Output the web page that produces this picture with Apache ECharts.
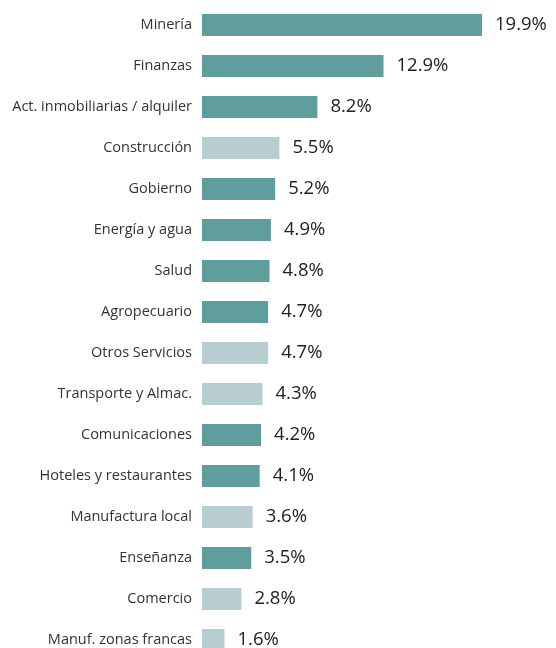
<!DOCTYPE html>
<html>
<head>
<meta charset="utf-8">
<script src="https://cdn.jsdelivr.net/npm/echarts@6/dist/echarts.min.js"></script>
<style>
  html, body { margin: 0; padding: 0; background: #fff; }
  #chart { width: 556px; height: 648px; }
</style>
</head>
<body>
<div id="chart"></div>
<script>
// Sectors, top to bottom
const categories = [
  'Minería', 'Finanzas', 'Act. inmobiliarias / alquiler', 'Construcción',
  'Gobierno', 'Energía y agua', 'Salud', 'Agropecuario', 'Otros Servicios',
  'Transporte y Almac.', 'Comunicaciones', 'Hoteles y restaurantes',
  'Manufactura local', 'Enseñanza', 'Comercio', 'Manuf. zonas francas'
];
// Share, percent
const values = [19.9, 12.9, 8.2, 5.5, 5.2, 4.9, 4.8, 4.7, 4.7, 4.3, 4.2, 4.1, 3.6, 3.5, 2.8, 1.6];
// Sectors drawn in the lighter shade
const lightSectors = [
  'Construcción', 'Otros Servicios', 'Transporte y Almac.',
  'Manufactura local', 'Comercio', 'Manuf. zonas francas'
];

const DARK = '#609e9e';
const LIGHT = '#b7cdcf';
const FONT = '"Open Sans", "Noto Sans", sans-serif';

const chart = echarts.init(document.getElementById('chart'), null, { renderer: 'canvas' });

chart.setOption({
  animation: false,
  grid: {
    left: 202, top: 4.5, width: 337.7, height: 656,
    containLabel: false,
    outerBoundsMode: 'none'
  },
  xAxis: {
    type: 'value', min: 0, max: 24,
    show: false
  },
  yAxis: {
    type: 'category',
    inverse: true,
    data: categories,
    axisLine: { show: false },
    axisTick: { show: false },
    axisLabel: {
      margin: 10,
      fontFamily: FONT,
      fontSize: 14.5,
      color: '#333'
    }
  },
  series: [{
    type: 'bar',
    barWidth: 22,
    data: values.map((v, i) => ({
      value: v,
      itemStyle: { color: lightSectors.includes(categories[i]) ? LIGHT : DARK }
    })),
    label: {
      show: true,
      position: 'right',
      distance: 13,
      fontFamily: FONT,
      fontSize: 18.5,
      color: '#222',
      formatter: p => p.value.toFixed(1) + '%'
    }
  }]
});
</script>
</body>
</html>
